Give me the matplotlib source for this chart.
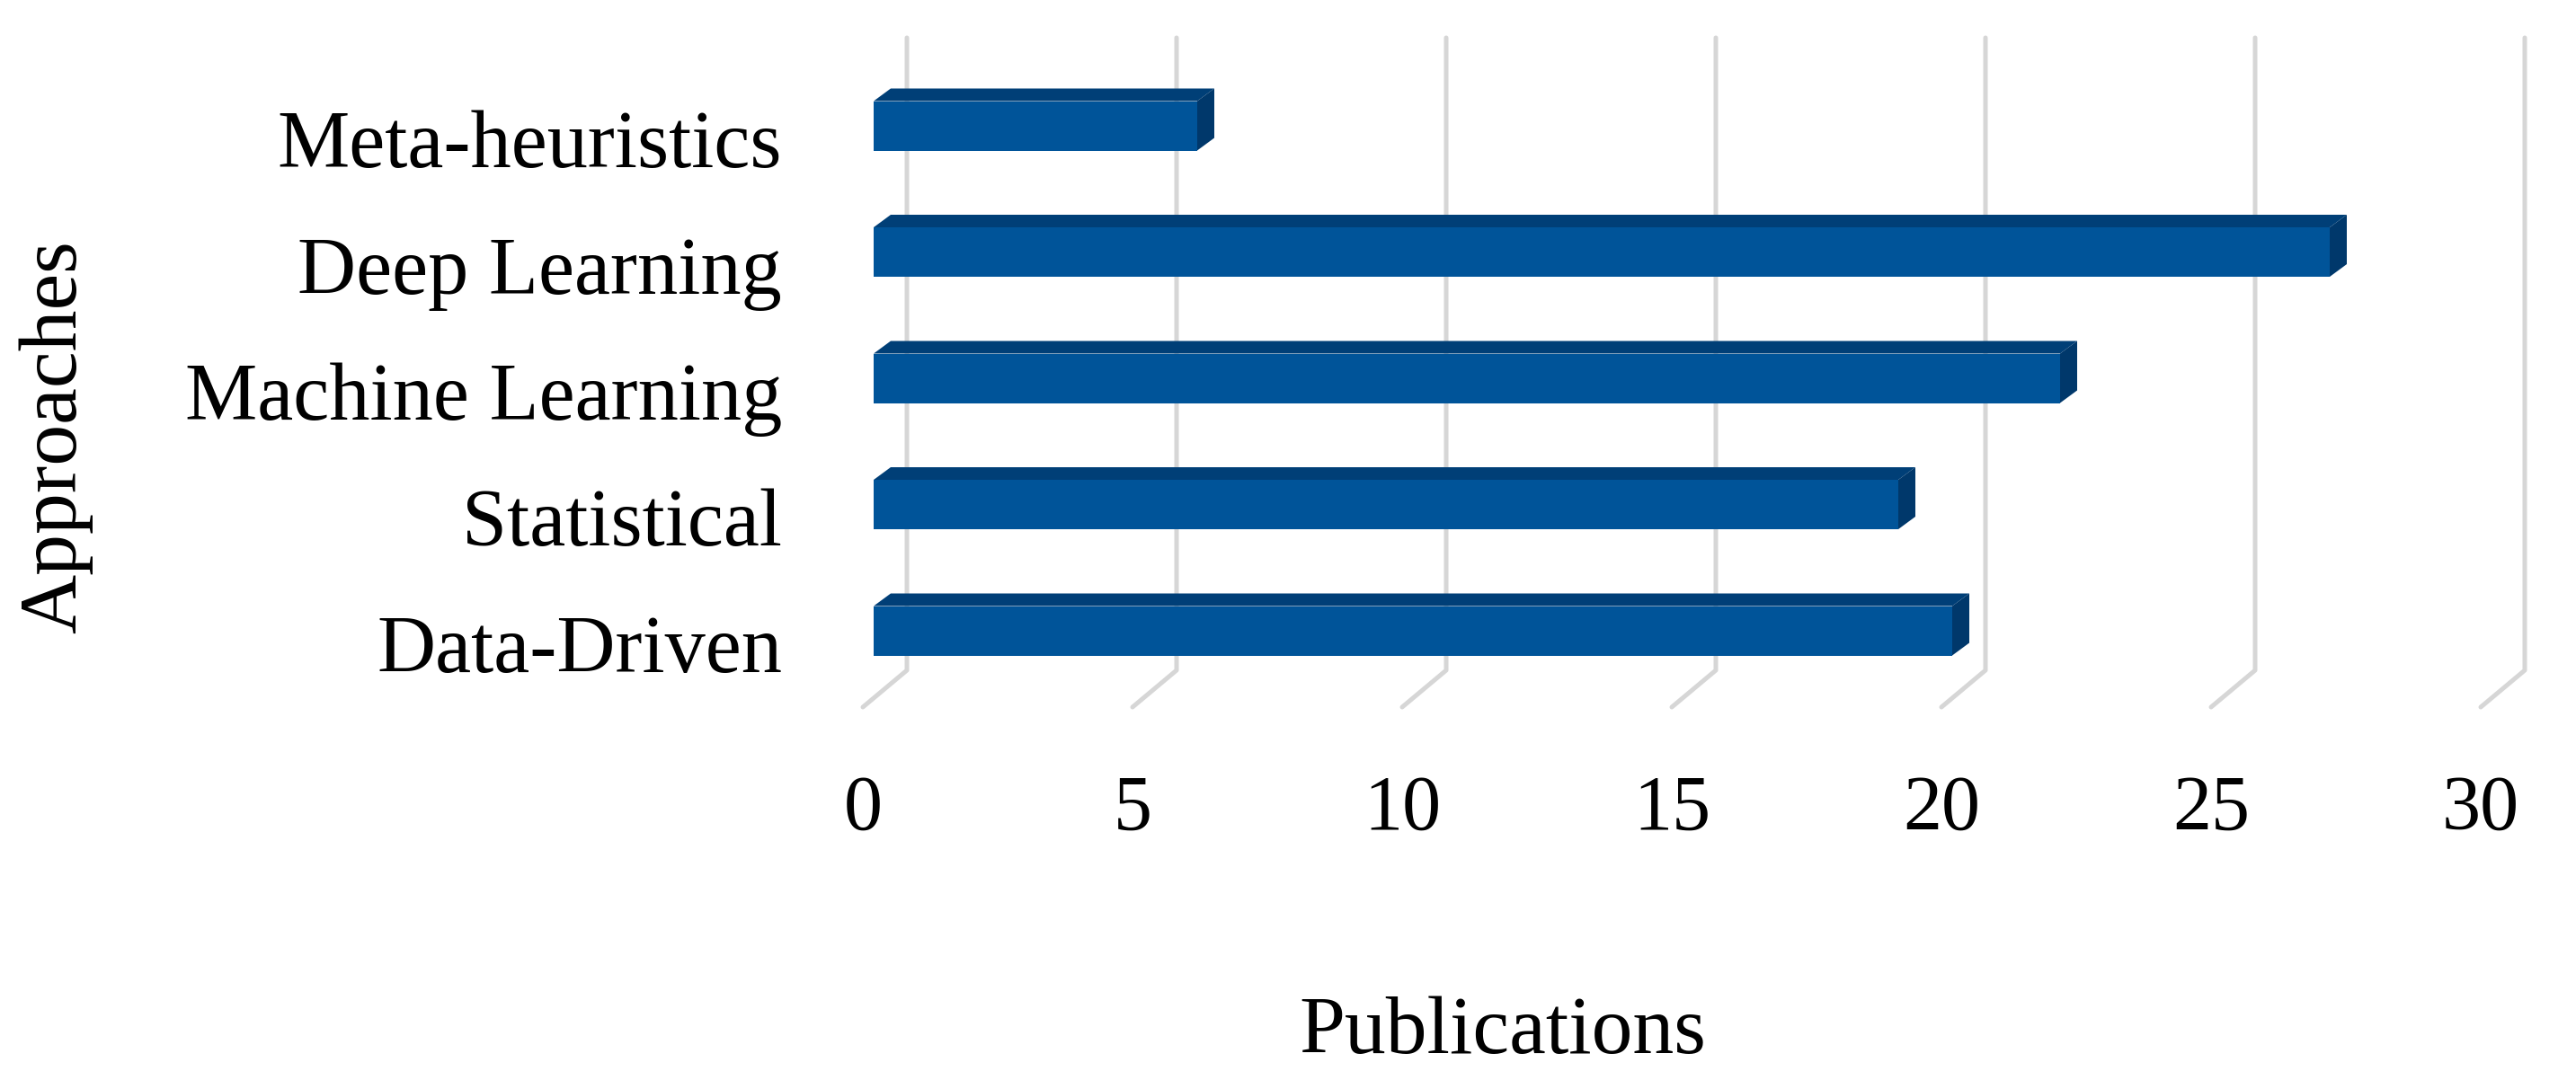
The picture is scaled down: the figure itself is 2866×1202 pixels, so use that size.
import matplotlib
matplotlib.use("Agg")
import matplotlib.pyplot as plt
from matplotlib.patches import Polygon

# ---- data ----
categories = ["Data-Driven", "Statistical", "Machine Learning", "Deep Learning", "Meta-heuristics"]
publications = [20, 19, 22, 27, 6]
xticks = [0, 5, 10, 15, 20, 25, 30]
xlabel = "Publications"
ylabel = "Approaches"

# ---- styling / geometry (pseudo-3D, in data units) ----
W, H, DPI = 2866, 1202, 100
PX_PER_UNIT_X = 60.0          # pixels per publication
PX_PER_CAT = 140.5            # pixels per category step
X0_PX = 972.0                 # pixel x of value 0 on bar front face
Y0_PX = 702.0                 # pixel y (from top) of first category centre

front_col = "#005499"
top_col = "#003F77"
side_col = "#00386B"
grid_col = "#D6D6D6"

bar_h = 55 / PX_PER_CAT
dxb, dyb = 19 / PX_PER_UNIT_X, 14 / PX_PER_CAT          # bar depth offset
wall_dx = 37 / PX_PER_UNIT_X                            # back wall offset
floor_dx, floor_dy = -49 / PX_PER_UNIT_X, -41 / PX_PER_CAT
wall_top = (Y0_PX - 42) / PX_PER_CAT
wall_bot = (Y0_PX - 746) / PX_PER_CAT

plt.rcParams["font.family"] = ["Liberation Serif", "DejaVu Serif"]

fig = plt.figure(figsize=(W / DPI, H / DPI), dpi=DPI)
ax = fig.add_axes([0, 0, 1, 1])
ax.set_xlim(-X0_PX / PX_PER_UNIT_X, (W - X0_PX) / PX_PER_UNIT_X)
ax.set_ylim((Y0_PX - H) / PX_PER_CAT, Y0_PX / PX_PER_CAT)
ax.axis("off")

# gridlines: back wall verticals + floor diagonals
for t in xticks:
    xb = t + wall_dx
    ax.plot([xb, xb, xb + floor_dx], [wall_top, wall_bot, wall_bot + floor_dy],
            color=grid_col, lw=3.6, solid_capstyle="round", solid_joinstyle="round", zorder=1)
    ax.text(xb + floor_dx, (Y0_PX - 902) / PX_PER_CAT, str(t), ha="center", va="center",
            fontsize=62, color="black")

# bars
ypos = list(range(len(categories)))
ax.barh(ypos, publications, height=bar_h, left=0, color=front_col, zorder=3)
for y, v in zip(ypos, publications):
    top = y + bar_h / 2
    bot = y - bar_h / 2
    ax.add_patch(Polygon([(0, top), (v, top), (v + dxb, top + dyb), (dxb, top + dyb)],
                         closed=True, facecolor=top_col, edgecolor="none", zorder=3))
    ax.add_patch(Polygon([(v, bot), (v, top), (v + dxb, top + dyb), (v + dxb, bot + dyb)],
                         closed=True, facecolor=side_col, edgecolor="none", zorder=3))
    ax.text((870 - X0_PX) / PX_PER_UNIT_X, y - 46 / PX_PER_CAT, categories[y],
            ha="right", va="baseline", fontsize=65, color="black")

# axis titles
ax.text((1672 - X0_PX) / PX_PER_UNIT_X, (Y0_PX - 1150) / PX_PER_CAT, xlabel,
        ha="center", va="center", fontsize=66, color="black")
ax.text((62 - X0_PX) / PX_PER_UNIT_X, (Y0_PX - 486) / PX_PER_CAT, ylabel,
        ha="center", va="center", rotation=90, fontsize=66, color="black")

fig.savefig("out.png", dpi=DPI, facecolor="white")
